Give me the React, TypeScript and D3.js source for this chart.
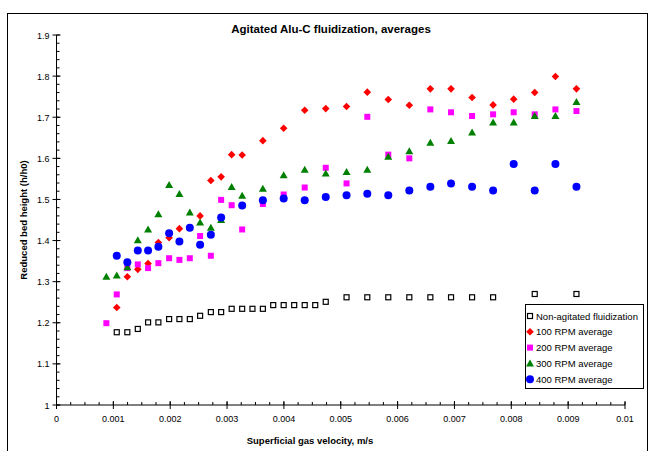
import React from "react";
import * as d3 from "d3";

const xNon = [0.00106,0.001246,0.00143,0.001611,0.001792,0.001981,0.002162,0.002345,0.002526,0.002715,0.002896,0.003081,0.003266,0.003447,0.00363,0.003812,0.003996,0.004181,0.004366,0.004551,0.004736,0.005102,0.005467,0.005836,0.006206,0.006576,0.00694,0.00731,0.00768,0.008412,0.009146];
const yNon = [1.177,1.177,1.185,1.201,1.201,1.209,1.209,1.209,1.217,1.226,1.226,1.234,1.234,1.234,1.234,1.243,1.243,1.243,1.243,1.243,1.251,1.262,1.262,1.262,1.262,1.262,1.262,1.262,1.262,1.27,1.27];

const xRed = [0.00106,0.001246,0.00143,0.001611,0.001792,0.001981,0.002162,0.002526,0.002715,0.002896,0.003081,0.003266,0.00363,0.003996,0.004366,0.004736,0.005102,0.005467,0.005836,0.006206,0.006576,0.00694,0.00731,0.00768,0.008042,0.008412,0.008776,0.009146];
const yRed = [1.237,1.312,1.33,1.344,1.395,1.407,1.429,1.46,1.546,1.555,1.609,1.608,1.643,1.673,1.717,1.721,1.726,1.761,1.743,1.729,1.769,1.769,1.748,1.73,1.744,1.76,1.799,1.769];

const xMag = [0.000877,0.00106,0.001246,0.00143,0.001611,0.001792,0.001981,0.002162,0.002345,0.002526,0.002715,0.002896,0.003081,0.003266,0.00363,0.003996,0.004366,0.004736,0.005102,0.005467,0.005836,0.006206,0.006576,0.00694,0.00731,0.00768,0.008042,0.008412,0.008776,0.009146];
const yMag = [1.199,1.269,1.333,1.342,1.333,1.345,1.357,1.353,1.357,1.411,1.363,1.499,1.486,1.427,1.489,1.512,1.529,1.577,1.539,1.701,1.609,1.6,1.719,1.712,1.703,1.707,1.712,1.707,1.719,1.715];

const xGrn = [0.000877,0.00106,0.001246,0.00143,0.001611,0.001792,0.001981,0.002162,0.002345,0.002526,0.002715,0.002896,0.003081,0.003266,0.00363,0.003996,0.004366,0.004736,0.005102,0.005467,0.005836,0.006206,0.006576,0.00694,0.00731,0.00768,0.008042,0.008412,0.008776,0.009146];
const yGrn = [1.312,1.315,1.335,1.401,1.427,1.464,1.535,1.513,1.468,1.444,1.431,1.45,1.53,1.509,1.526,1.559,1.572,1.563,1.567,1.572,1.604,1.617,1.638,1.642,1.663,1.687,1.687,1.703,1.703,1.737];

const xBlu = [0.00106,0.001246,0.00143,0.001611,0.001792,0.001981,0.002162,0.002345,0.002526,0.002715,0.002896,0.003266,0.00363,0.003996,0.004366,0.004736,0.005102,0.005467,0.005836,0.006206,0.006576,0.00694,0.00731,0.00768,0.008042,0.008412,0.008776,0.009146];
const yBlu = [1.363,1.347,1.376,1.376,1.385,1.418,1.398,1.431,1.39,1.414,1.456,1.485,1.498,1.502,1.498,1.506,1.51,1.514,1.51,1.522,1.531,1.539,1.531,1.522,1.586,1.522,1.586,1.531];

const seriesNames = ["Non-agitated fluidization","100 RPM average","200 RPM average","300 RPM average","400 RPM average"];
const xTicks = [0,0.001,0.002,0.003,0.004,0.005,0.006,0.007,0.008,0.009,0.01];
const xTickLabels = ["0","0.001","0.002","0.003","0.004","0.005","0.006","0.007","0.008","0.009","0.01"];
const yTicks = [1,1.1,1.2,1.3,1.4,1.5,1.6,1.7,1.8,1.9];
const yTickLabels = ["1","1.1","1.2","1.3","1.4","1.5","1.6","1.7","1.8","1.9"];

const FONT = "'Liberation Sans', Arial, sans-serif";

function Marker({ kind, cx, cy }: { kind: number; cx: number; cy: number }) {
  if (kind === 0) {
    return <rect x={cx - 2.5} y={cy - 2.5} width={5} height={5} fill="white" stroke="black" strokeWidth={1.2} />;
  }
  if (kind === 1) {
    const r = 3.8;
    return <path d={`M${cx},${cy - r}L${cx + r},${cy}L${cx},${cy + r}L${cx - r},${cy}Z`} fill="#ff0000" />;
  }
  if (kind === 2) {
    return <rect x={cx - 3} y={cy - 3} width={6} height={6} fill="#ff00ff" />;
  }
  if (kind === 3) {
    return <path d={`M${cx},${cy - 4}L${cx + 4},${cy + 3}L${cx - 4},${cy + 3}Z`} fill="#008000" />;
  }
  return <circle cx={cx} cy={cy} r={4} fill="#0000ff" />;
}

export default function App() {
  const x = d3.scaleLinear().domain([0, 0.01]).range([56.5, 625]);
  const y = d3.scaleLinear().domain([1, 1.9]).range([405, 35]);

  const series = [
    { xs: xNon, ys: yNon },
    { xs: xRed, ys: yRed },
    { xs: xMag, ys: yMag },
    { xs: xGrn, ys: yGrn },
    { xs: xBlu, ys: yBlu },
  ];

  const yMinor = d3.range(1, 1.9001, 0.02);
  const xMinor = d3.range(0, 0.01001, 0.00025);
  const x0 = x(0);
  const y0 = y(1);

  return (
    <svg width={654} height={451} style={{ position: "absolute", left: 0, top: 0 }} fontFamily={FONT}>
      <rect x={0} y={0} width={654} height={451} fill="white" />
      <rect x={7.5} y={13.5} width={640} height={460} fill="none" stroke="black" strokeWidth={1} />
      <text x={331} y={33} textAnchor="middle" fontSize={11.5} fontWeight="bold">Agitated Alu-C fluidization, averages</text>

      {/* y axis */}
      <line x1={x0} x2={x0} y1={y(1.9)} y2={y0} stroke="black" />
      {yMinor.map((v, i) => (
        <line key={"ym" + i} x1={x0} x2={x0 + 3} y1={y(v)} y2={y(v)} stroke="black" />
      ))}
      {yTicks.map((v, i) => (
        <g key={"yt" + i}>
          <line x1={x0 - 4} x2={x0 + 4} y1={y(v)} y2={y(v)} stroke="black" />
          <text x={x0 - 7} y={y(v) + 3.5} textAnchor="end" fontSize={9}>{yTickLabels[i]}</text>
        </g>
      ))}
      <text transform={`translate(27,${y(1.45)}) rotate(-90)`} textAnchor="middle" fontSize={9.5} fontWeight="bold">Reduced bed height (h/h0)</text>

      {/* x axis */}
      <line x1={x0} x2={x(0.01)} y1={y0} y2={y0} stroke="black" />
      {xMinor.map((v, i) => (
        <line key={"xm" + i} x1={x(v)} x2={x(v)} y1={y0} y2={y0 - 3} stroke="black" />
      ))}
      {xTicks.map((v, i) => (
        <g key={"xt" + i}>
          <line x1={x(v)} x2={x(v)} y1={y0 - 4} y2={y0 + 4} stroke="black" />
          <text x={x(v)} y={y0 + 17} textAnchor="middle" fontSize={9}>{xTickLabels[i]}</text>
        </g>
      ))}
      <text x={310} y={444} textAnchor="middle" fontSize={9.5} fontWeight="bold">Superficial gas velocity, m/s</text>

      {series.map((s, k) => (
        <g key={"s" + k}>
          {s.xs.map((v, i) => (
            <Marker key={i} kind={k} cx={x(v)} cy={y(s.ys[i])} />
          ))}
        </g>
      ))}

      {/* legend */}
      <rect x={525.5} y={304.5} width={118} height={84} fill="white" stroke="black" />
      {seriesNames.map((n, k) => (
        <g key={"l" + k}>
          <Marker kind={k} cx={530} cy={316 + k * 15.8} />
          <text x={536} y={316 + k * 15.8 + 3.5} fontSize={9.5}>{n}</text>
        </g>
      ))}
    </svg>
  );
}
